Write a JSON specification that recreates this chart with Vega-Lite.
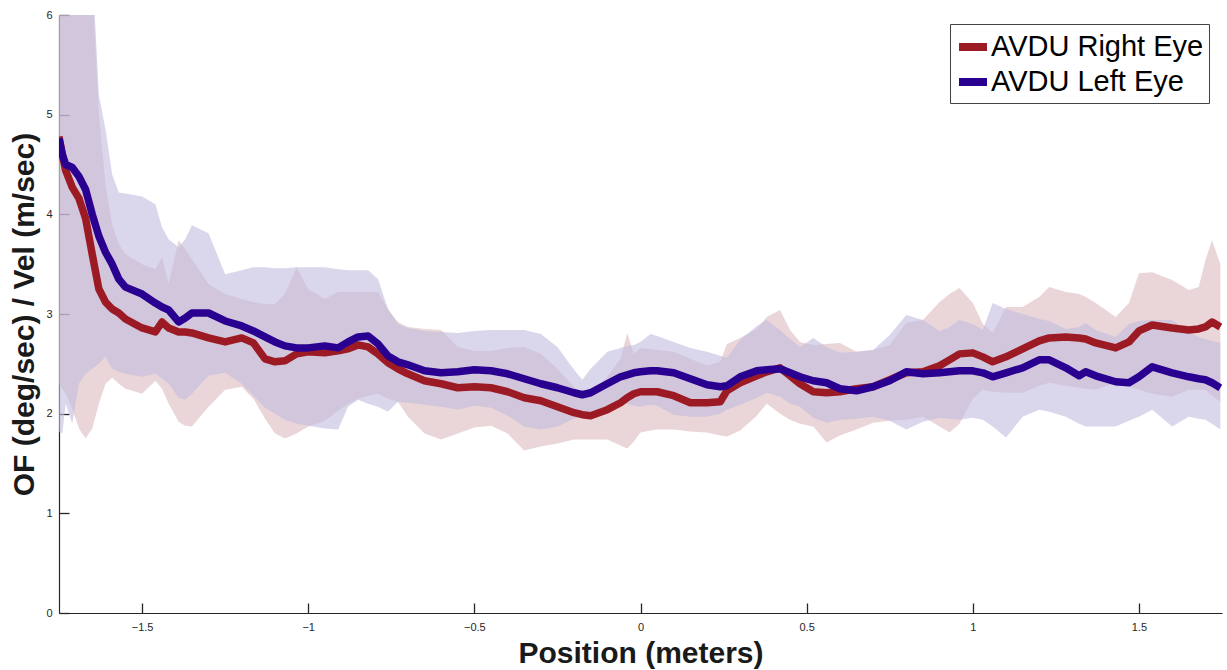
{
  "$schema": "https://vega.github.io/schema/vega-lite/v6.json",
  "width": 1163,
  "height": 598,
  "autosize": {"type": "none"},
  "padding": {"left": 59, "top": 15, "right": 5, "bottom": 57},
  "background": "white",
  "config": {
    "view": {"stroke": null},
    "font": "Liberation Sans",
    "axis": {
      "grid": false,
      "domainColor": "#262626",
      "domainWidth": 1.2,
      "tickColor": "#262626",
      "tickWidth": 1.3,
      "tickSize": -10,
      "labelFont": "Liberation Sans",
      "labelFontSize": 11,
      "labelColor": "#262626",
      "titleFont": "Liberation Sans",
      "titleFontSize": 30,
      "titleFontWeight": "bold",
      "titleColor": "#1a1a1a"
    }
  },
  "datasets": {
    "right": [
      {"x":-1.75,"m":4.78,"lo":2.3,"hi":6.5},{"x":-1.74,"m":4.6,"lo":2.25,"hi":6.5},{"x":-1.73,"m":4.44,"lo":2.2,"hi":6.5},{"x":-1.71,"m":4.27,"lo":2.05,"hi":6.5},{"x":-1.69,"m":4.16,"lo":1.85,"hi":6.5},{"x":-1.67,"m":3.96,"lo":1.75,"hi":6.5},{"x":-1.65,"m":3.6,"lo":1.85,"hi":6.3},{"x":-1.63,"m":3.25,"lo":2.1,"hi":5.0},{"x":-1.61,"m":3.12,"lo":2.3,"hi":4.3},{"x":-1.59,"m":3.05,"lo":2.36,"hi":3.9},{"x":-1.57,"m":3.01,"lo":2.3,"hi":3.7},{"x":-1.55,"m":2.95,"lo":2.25,"hi":3.6},{"x":-1.5,"m":2.86,"lo":2.2,"hi":3.5},{"x":-1.46,"m":2.82,"lo":2.33,"hi":3.45},{"x":-1.44,"m":2.92,"lo":2.25,"hi":3.57},{"x":-1.42,"m":2.86,"lo":2.1,"hi":3.3},{"x":-1.39,"m":2.82,"lo":1.92,"hi":3.74},{"x":-1.37,"m":2.82,"lo":1.88,"hi":3.65},{"x":-1.35,"m":2.81,"lo":1.87,"hi":3.55},{"x":-1.3,"m":2.76,"lo":2.07,"hi":3.3},{"x":-1.25,"m":2.72,"lo":2.24,"hi":3.2},{"x":-1.2,"m":2.76,"lo":2.27,"hi":3.15},{"x":-1.165,"m":2.71,"lo":2.15,"hi":3.12},{"x":-1.13,"m":2.55,"lo":1.95,"hi":3.1},{"x":-1.1,"m":2.52,"lo":1.8,"hi":3.1},{"x":-1.07,"m":2.53,"lo":1.75,"hi":3.2},{"x":-1.035,"m":2.6,"lo":1.8,"hi":3.47},{"x":-1.0,"m":2.62,"lo":1.87,"hi":3.25},{"x":-0.95,"m":2.61,"lo":1.93,"hi":3.15},{"x":-0.91,"m":2.63,"lo":2.03,"hi":3.22},{"x":-0.88,"m":2.65,"lo":2.1,"hi":3.22},{"x":-0.85,"m":2.69,"lo":2.15,"hi":3.22},{"x":-0.82,"m":2.67,"lo":2.18,"hi":3.22},{"x":-0.79,"m":2.6,"lo":2.2,"hi":3.22},{"x":-0.76,"m":2.51,"lo":2.15,"hi":3.05},{"x":-0.73,"m":2.45,"lo":2.12,"hi":2.92},{"x":-0.7,"m":2.4,"lo":1.97,"hi":2.87},{"x":-0.65,"m":2.33,"lo":1.8,"hi":2.85},{"x":-0.6,"m":2.3,"lo":1.74,"hi":2.84},{"x":-0.55,"m":2.26,"lo":1.8,"hi":2.67},{"x":-0.5,"m":2.27,"lo":1.86,"hi":2.63},{"x":-0.45,"m":2.26,"lo":1.88,"hi":2.63},{"x":-0.4,"m":2.22,"lo":1.8,"hi":2.66},{"x":-0.35,"m":2.16,"lo":1.63,"hi":2.67},{"x":-0.3,"m":2.13,"lo":1.67,"hi":2.6},{"x":-0.25,"m":2.07,"lo":1.7,"hi":2.45},{"x":-0.2,"m":2.01,"lo":1.74,"hi":2.27},{"x":-0.175,"m":1.99,"lo":1.74,"hi":2.2},{"x":-0.15,"m":1.98,"lo":1.74,"hi":2.2},{"x":-0.1,"m":2.04,"lo":1.74,"hi":2.37},{"x":-0.06,"m":2.11,"lo":1.68,"hi":2.55},{"x":-0.04,"m":2.16,"lo":1.65,"hi":2.81},{"x":-0.02,"m":2.2,"lo":1.72,"hi":2.6},{"x":0,"m":2.22,"lo":1.81,"hi":2.66},{"x":0.03,"m":2.22,"lo":1.83,"hi":2.65},{"x":0.05,"m":2.22,"lo":1.84,"hi":2.64},{"x":0.1,"m":2.18,"lo":1.84,"hi":2.62},{"x":0.15,"m":2.11,"lo":1.82,"hi":2.55},{"x":0.2,"m":2.11,"lo":1.81,"hi":2.48},{"x":0.24,"m":2.12,"lo":1.78,"hi":2.52},{"x":0.26,"m":2.23,"lo":1.77,"hi":2.7},{"x":0.3,"m":2.31,"lo":1.83,"hi":2.76},{"x":0.35,"m":2.38,"lo":1.98,"hi":2.85},{"x":0.38,"m":2.42,"lo":2.1,"hi":2.97},{"x":0.42,"m":2.46,"lo":2.0,"hi":3.04},{"x":0.45,"m":2.38,"lo":1.94,"hi":2.84},{"x":0.48,"m":2.3,"lo":1.9,"hi":2.72},{"x":0.52,"m":2.22,"lo":1.87,"hi":2.69},{"x":0.56,"m":2.21,"lo":1.71,"hi":2.7},{"x":0.6,"m":2.22,"lo":1.78,"hi":2.71},{"x":0.65,"m":2.25,"lo":1.84,"hi":2.62},{"x":0.7,"m":2.27,"lo":1.91,"hi":2.64},{"x":0.75,"m":2.34,"lo":1.93,"hi":2.69},{"x":0.8,"m":2.41,"lo":1.94,"hi":2.91},{"x":0.85,"m":2.42,"lo":1.97,"hi":2.94},{"x":0.9,"m":2.48,"lo":1.87,"hi":3.12},{"x":0.93,"m":2.54,"lo":1.81,"hi":3.2},{"x":0.96,"m":2.6,"lo":1.9,"hi":3.26},{"x":1.0,"m":2.61,"lo":2.15,"hi":3.11},{"x":1.03,"m":2.57,"lo":2.24,"hi":2.9},{"x":1.06,"m":2.52,"lo":2.22,"hi":2.81},{"x":1.1,"m":2.57,"lo":2.21,"hi":3.07},{"x":1.15,"m":2.65,"lo":2.21,"hi":3.07},{"x":1.2,"m":2.73,"lo":2.28,"hi":3.17},{"x":1.23,"m":2.76,"lo":2.31,"hi":3.27},{"x":1.28,"m":2.77,"lo":2.28,"hi":3.22},{"x":1.32,"m":2.76,"lo":2.26,"hi":3.2},{"x":1.34,"m":2.75,"lo":2.25,"hi":3.17},{"x":1.37,"m":2.71,"lo":2.24,"hi":3.11},{"x":1.43,"m":2.66,"lo":2.31,"hi":2.97},{"x":1.47,"m":2.72,"lo":2.27,"hi":3.11},{"x":1.5,"m":2.83,"lo":2.24,"hi":3.41},{"x":1.54,"m":2.89,"lo":2.2,"hi":3.42},{"x":1.6,"m":2.86,"lo":2.17,"hi":3.34},{"x":1.65,"m":2.84,"lo":2.24,"hi":3.24},{"x":1.68,"m":2.85,"lo":2.24,"hi":3.27},{"x":1.7,"m":2.87,"lo":2.24,"hi":3.54},{"x":1.72,"m":2.92,"lo":2.18,"hi":3.74},{"x":1.745,"m":2.87,"lo":2.12,"hi":3.5}
    ],
    "left": [
      {"x":-1.75,"m":4.76,"lo":1.82,"hi":6.5},{"x":-1.74,"m":4.6,"lo":1.8,"hi":6.5},{"x":-1.73,"m":4.5,"lo":2.1,"hi":6.5},{"x":-1.71,"m":4.47,"lo":1.9,"hi":6.5},{"x":-1.69,"m":4.38,"lo":2.3,"hi":6.5},{"x":-1.67,"m":4.25,"lo":2.4,"hi":6.5},{"x":-1.65,"m":4.0,"lo":2.45,"hi":6.5},{"x":-1.63,"m":3.78,"lo":2.5,"hi":5.2},{"x":-1.61,"m":3.62,"lo":2.57,"hi":4.85},{"x":-1.59,"m":3.5,"lo":2.45,"hi":4.4},{"x":-1.57,"m":3.35,"lo":2.42,"hi":4.22},{"x":-1.55,"m":3.27,"lo":2.4,"hi":4.21},{"x":-1.5,"m":3.2,"lo":2.37,"hi":4.18},{"x":-1.46,"m":3.11,"lo":2.4,"hi":4.1},{"x":-1.44,"m":3.07,"lo":2.35,"hi":3.87},{"x":-1.42,"m":3.04,"lo":2.3,"hi":3.75},{"x":-1.39,"m":2.92,"lo":2.16,"hi":3.67},{"x":-1.37,"m":2.96,"lo":2.14,"hi":3.75},{"x":-1.35,"m":3.01,"lo":2.2,"hi":3.89},{"x":-1.3,"m":3.01,"lo":2.38,"hi":3.81},{"x":-1.25,"m":2.93,"lo":2.41,"hi":3.4},{"x":-1.2,"m":2.88,"lo":2.3,"hi":3.44},{"x":-1.165,"m":2.83,"lo":2.18,"hi":3.47},{"x":-1.13,"m":2.77,"lo":2.06,"hi":3.47},{"x":-1.1,"m":2.72,"lo":2.0,"hi":3.46},{"x":-1.07,"m":2.68,"lo":1.94,"hi":3.46},{"x":-1.035,"m":2.66,"lo":1.9,"hi":3.47},{"x":-1.0,"m":2.66,"lo":1.88,"hi":3.47},{"x":-0.95,"m":2.68,"lo":1.85,"hi":3.47},{"x":-0.91,"m":2.66,"lo":1.84,"hi":3.45},{"x":-0.88,"m":2.72,"lo":2.07,"hi":3.44},{"x":-0.85,"m":2.77,"lo":2.14,"hi":3.44},{"x":-0.82,"m":2.78,"lo":2.1,"hi":3.44},{"x":-0.79,"m":2.7,"lo":2.07,"hi":3.35},{"x":-0.76,"m":2.58,"lo":2.02,"hi":3.05},{"x":-0.73,"m":2.52,"lo":2.12,"hi":2.9},{"x":-0.7,"m":2.49,"lo":2.11,"hi":2.86},{"x":-0.65,"m":2.43,"lo":2.09,"hi":2.83},{"x":-0.6,"m":2.41,"lo":2.07,"hi":2.82},{"x":-0.55,"m":2.42,"lo":2.04,"hi":2.81},{"x":-0.5,"m":2.44,"lo":2.08,"hi":2.83},{"x":-0.45,"m":2.43,"lo":2.06,"hi":2.84},{"x":-0.4,"m":2.4,"lo":1.98,"hi":2.84},{"x":-0.35,"m":2.35,"lo":1.87,"hi":2.84},{"x":-0.3,"m":2.3,"lo":1.84,"hi":2.8},{"x":-0.25,"m":2.26,"lo":1.87,"hi":2.67},{"x":-0.2,"m":2.21,"lo":1.95,"hi":2.44},{"x":-0.175,"m":2.19,"lo":1.97,"hi":2.34},{"x":-0.15,"m":2.21,"lo":1.96,"hi":2.45},{"x":-0.1,"m":2.3,"lo":2.04,"hi":2.62},{"x":-0.06,"m":2.37,"lo":2.12,"hi":2.66},{"x":-0.04,"m":2.39,"lo":2.1,"hi":2.68},{"x":-0.02,"m":2.41,"lo":2.08,"hi":2.69},{"x":0,"m":2.42,"lo":2.07,"hi":2.72},{"x":0.03,"m":2.43,"lo":2.09,"hi":2.8},{"x":0.05,"m":2.43,"lo":2.08,"hi":2.78},{"x":0.1,"m":2.41,"lo":1.99,"hi":2.72},{"x":0.15,"m":2.35,"lo":1.97,"hi":2.66},{"x":0.2,"m":2.29,"lo":1.97,"hi":2.62},{"x":0.24,"m":2.27,"lo":2.0,"hi":2.58},{"x":0.26,"m":2.28,"lo":2.04,"hi":2.56},{"x":0.3,"m":2.37,"lo":2.09,"hi":2.74},{"x":0.35,"m":2.43,"lo":2.16,"hi":2.88},{"x":0.38,"m":2.44,"lo":2.21,"hi":2.94},{"x":0.42,"m":2.45,"lo":2.17,"hi":2.84},{"x":0.45,"m":2.41,"lo":2.1,"hi":2.75},{"x":0.48,"m":2.37,"lo":2.07,"hi":2.67},{"x":0.52,"m":2.33,"lo":1.96,"hi":2.76},{"x":0.56,"m":2.31,"lo":1.91,"hi":2.67},{"x":0.6,"m":2.25,"lo":1.94,"hi":2.61},{"x":0.65,"m":2.23,"lo":1.95,"hi":2.62},{"x":0.7,"m":2.27,"lo":1.97,"hi":2.64},{"x":0.75,"m":2.33,"lo":1.93,"hi":2.79},{"x":0.8,"m":2.42,"lo":1.84,"hi":2.99},{"x":0.85,"m":2.4,"lo":1.92,"hi":2.94},{"x":0.9,"m":2.41,"lo":1.96,"hi":2.83},{"x":0.93,"m":2.42,"lo":1.95,"hi":2.87},{"x":0.96,"m":2.43,"lo":1.94,"hi":2.94},{"x":1.0,"m":2.43,"lo":1.96,"hi":2.9},{"x":1.03,"m":2.41,"lo":1.94,"hi":2.84},{"x":1.06,"m":2.37,"lo":1.87,"hi":3.11},{"x":1.1,"m":2.41,"lo":1.76,"hi":3.05},{"x":1.15,"m":2.46,"lo":1.97,"hi":3.0},{"x":1.2,"m":2.54,"lo":2.04,"hi":2.95},{"x":1.23,"m":2.54,"lo":2.02,"hi":2.93},{"x":1.28,"m":2.46,"lo":1.97,"hi":2.85},{"x":1.32,"m":2.38,"lo":1.9,"hi":2.87},{"x":1.34,"m":2.42,"lo":1.87,"hi":2.91},{"x":1.37,"m":2.38,"lo":1.87,"hi":2.84},{"x":1.43,"m":2.32,"lo":1.87,"hi":2.77},{"x":1.47,"m":2.31,"lo":1.93,"hi":2.9},{"x":1.5,"m":2.37,"lo":1.97,"hi":2.93},{"x":1.54,"m":2.47,"lo":2.04,"hi":2.94},{"x":1.6,"m":2.41,"lo":1.87,"hi":2.94},{"x":1.65,"m":2.37,"lo":1.97,"hi":2.81},{"x":1.68,"m":2.35,"lo":1.95,"hi":2.77},{"x":1.7,"m":2.34,"lo":1.94,"hi":2.75},{"x":1.72,"m":2.31,"lo":1.9,"hi":2.73},{"x":1.745,"m":2.26,"lo":1.84,"hi":2.71}
    ]
  },
  "encoding": {
    "x": {
      "field": "x", "type": "quantitative",
      "scale": {"domain": [-1.75, 1.75], "nice": false, "zero": false},
      "axis": {"title": "Position (meters)", "values": [-1.5, -1, -0.5, 0, 0.5, 1, 1.5], "format": ".1~f", "labelPadding": 18, "titlePadding": 6}
    }
  },
  "layer": [
    {
      "data": {"name": "right"},
      "mark": {"type": "area", "color": "#D5ADB1", "opacity": 0.5, "clip": true},
      "encoding": {
        "y": {"field": "lo", "type": "quantitative", "scale": {"domain": [0, 6], "nice": false}, "axis": {"title": "OF (deg/sec) / Vel (m/sec)", "values": [0, 1, 2, 3, 4, 5, 6], "format": "d", "labelPadding": 17, "titlePadding": 6}},
        "y2": {"field": "hi"}
      }
    },
    {
      "data": {"name": "left"},
      "mark": {"type": "area", "color": "#C3BDE0", "opacity": 0.62, "clip": true},
      "encoding": {
        "y": {"field": "lo", "type": "quantitative"},
        "y2": {"field": "hi"}
      }
    },
    {
      "data": {"name": "right"},
      "mark": {"type": "line", "strokeWidth": 7.5, "clip": true, "strokeJoin": "round"},
      "encoding": {
        "y": {"field": "m", "type": "quantitative"},
        "color": {
          "datum": "AVDU Right Eye",
          "type": "nominal",
          "scale": {"domain": ["AVDU Right Eye", "AVDU Left Eye"], "range": ["#9C1A23", "#2A0090"]},
          "legend": {
            "title": null,
            "orient": "none",
            "legendX": 891,
            "legendY": 9,
            "direction": "vertical",
            "symbolType": "stroke",
            "symbolSize": 784,
            "symbolStrokeWidth": 8,
            "labelFont": "Liberation Sans",
            "labelFontSize": 29,
            "labelColor": "#000000",
            "labelOffset": 0,
            "labelLimit": 400,
            "strokeColor": "#444444",
            "fillColor": "#ffffff",
            "padding": 5,
            "rowPadding": 1
          }
        }
      }
    },
    {
      "data": {"name": "left"},
      "mark": {"type": "line", "strokeWidth": 7.5, "clip": true, "strokeJoin": "round"},
      "encoding": {
        "y": {"field": "m", "type": "quantitative"},
        "color": {"datum": "AVDU Left Eye", "type": "nominal"}
      }
    }
  ]
}
